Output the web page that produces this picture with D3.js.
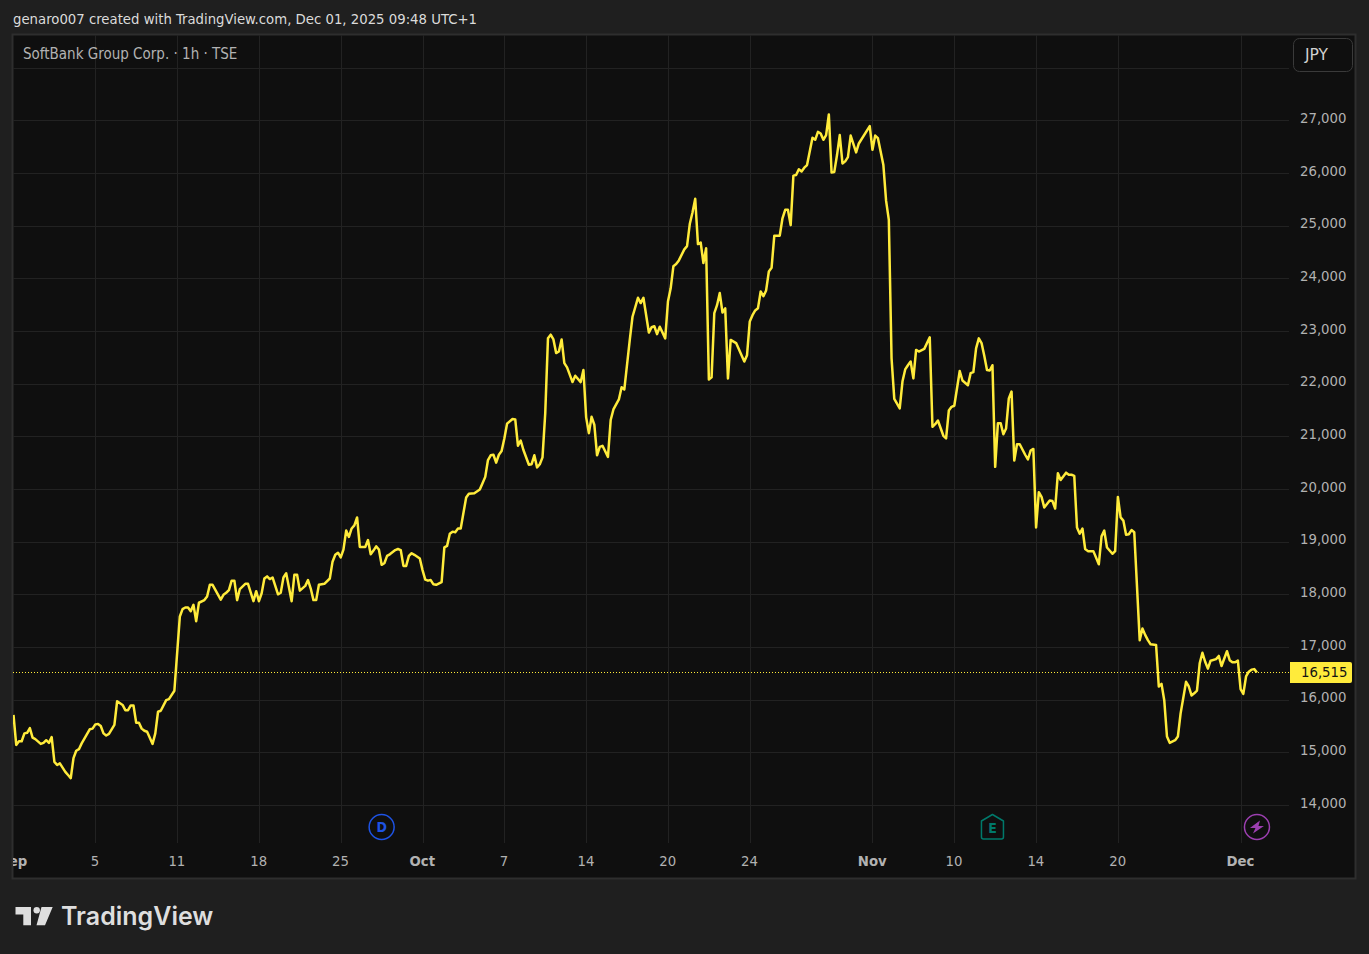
<!DOCTYPE html>
<html>
<head>
<meta charset="utf-8">
<title>SoftBank Group Corp. 1h TSE</title>
<script src="https://cdn.jsdelivr.net/npm/d3@7"></script>
<style>
    html, body { margin: 0; padding: 0; background: #1f1f1f; overflow: hidden; }
    svg { display: block; }
    text { font-family: "DejaVu Sans", sans-serif; font-stretch: condensed; }
    .axis path, .axis line { display: none; }
    .axis text { fill: #b2b2b2; font-size: 14.75px; }
</style>
</head>
<body>
<script>
//bar number on the time scale, only the bars where the line changes direction
var bars = [
    0,1,2,3,4,5,6,7,8,10,
    11,12,13,14,15,16,17,19,20,21,
    22,23,24,25,28,29,30,31,32,33,
    34,35,37,38,40,41,42,43,44,45,
    46,47,48,49,51,52,53,54,56,57,
    59,61,62,63,64,65,66,67,68,70,
    71,72,73,76,77,78,79,80,81,82,
    83,85,86,88,89,90,91,92,93,94,
    95,97,98,99,100,102,103,104,105,107,
    108,109,110,111,112,114,116,117,118,119,
    120,121,122,123,124,125,126,127,129,130,
    131,132,133,134,135,136,137,138,140,141,
    142,143,144,145,146,147,149,150,151,152,
    153,154,155,157,158,159,160,161,162,163,
    164,166,167,169,171,172,173,174,175,176,
    177,178,179,180,181,183,184,185,186,187,
    189,190,191,192,193,194,195,196,197,198,
    199,200,201,202,203,205,206,208,209,210,
    211,212,213,214,215,216,218,219,220,222,
    223,224,226,227,229,230,231,233,234,235,
    236,237,239,240,241,242,243,244,246,247,
    248,249,250,251,252,253,254,255,256,257,
    258,259,260,261,262,263,265,268,269,270,
    271,272,273,274,275,276,277,278,279,281,
    282,283,284,285,286,287,288,289,290,291,
    293,294,295,296,297,298,299,300,301,302,
    303,304,305,306,307,309,310,314,315,316,
    317,319,320,321,322,323,325,326,327,328,
    329,330,331,332,334,336,337,338,339,341,
    342,343,344,345,347,348,350,351,352,353,
    354,355,356,357,358,359,360,361,362,363,
    364,365,366,367,368,369,371,372,373,374,
    375,376,377,378,380,381,382,383,384,386,
    387,388,389,390,391,392,393,394,396,398,
    399,400,401,403,404,405,406,407,408,409,
    410,411,413,414,415,416,417,419,420,421,
    422,423,424,426,427,428,430,431,432,433,
    434,435,436,437,438,439,441,442,443,445,
    446,447,448,449,450,451,452,453,454,455,
    456
];

//close price in JPY for each entry of bars
var closes = [
    15710,15140,15210,15210,15360,15370,15460,15280,15250,15160,
    15180,15230,15180,15290,14820,14760,14790,14630,14570,14510,
    14890,15030,15060,15170,15440,15450,15530,15540,15500,15360,
    15320,15350,15520,15970,15900,15800,15800,15890,15890,15560,
    15560,15450,15410,15390,15160,15360,15770,15790,15990,16010,
    16170,17580,17720,17750,17750,17680,17800,17490,17840,17890,
    17960,18180,18180,17900,17990,18030,18080,18260,18260,17890,
    18100,18200,18200,17870,18060,17870,18020,18300,18340,18290,
    18320,18000,18030,18320,18400,17870,18370,18370,18070,18160,
    18270,18110,17890,17890,18180,18200,18300,18620,18750,18790,
    18700,18850,19210,19090,19250,19310,19460,18900,18900,19030,
    18760,18830,18910,18850,18560,18590,18730,18760,18840,18860,
    18840,18540,18540,18730,18780,18750,18680,18460,18280,18260,
    18270,18190,18180,18230,18890,18920,19150,19190,19180,19250,
    19250,19840,19910,19920,19990,20110,20230,20550,20640,20650,
    20500,20650,20720,20960,21240,21330,21320,20820,20920,20740,
    20460,20470,20640,20410,20470,20600,21440,22860,22930,22840,
    22580,22610,22840,22390,22310,22030,22150,22030,22260,21360,
    21060,21370,21220,20640,20800,20820,20610,21310,21510,21700,
    21930,21890,22830,23270,23630,23530,23630,22970,23070,23090,
    22940,23080,22860,23560,23810,24230,24270,24340,24550,24610,
    25030,25250,25510,24650,24680,24290,24570,22080,22120,23340,
    23490,23720,23350,23430,22100,22830,22770,22420,22540,23180,
    23300,23390,23430,23750,23660,23770,24130,24200,24810,24810,
    25140,25300,25300,25010,25950,25960,26070,26030,26100,26150,
    26670,26630,26780,26750,26630,26720,27110,26010,26020,26340,
    26720,26180,26220,26300,26710,26390,26560,26890,26440,26710,
    26660,26150,25470,25110,22480,21710,21530,22040,22270,22350,
    22420,22100,22640,22610,22660,22880,21180,21230,21300,21010,
    20960,21490,21560,21580,22240,22060,21970,22200,22220,22670,
    22860,22770,22530,22260,22250,22350,20420,21250,21250,21040,
    21150,21720,21850,20540,20850,20850,20650,20560,20730,20760,
    19270,19940,19850,19650,19780,19770,19630,20300,20170,20310,
    20270,20270,20250,19270,19150,19250,18860,18820,18820,18570,
    19100,19210,18890,18770,18820,19850,19460,19400,19130,19140,
    19220,19180,17130,17350,17230,17130,17050,17040,16250,16300,
    15990,15300,15180,15230,15300,15740,16340,16250,16080,16120,
    16170,16690,16890,16720,16590,16740,16770,16830,16640,16920,
    16750,16710,16710,16740,16200,16110,16440,16530,16570,16580,
    16515
];

//time axis
var timeTickBars = [0, 30, 60, 90, 120, 150, 180, 210, 240, 270, 315, 345, 375, 405, 450];
var timeTickLabels = ["Sep", "5", "11", "18", "25", "Oct", "7", "14", "20", "24", "Nov", "10", "14", "20", "Dec"];
var monthLabels = ["Sep", "Oct", "Nov", "Dec"];

//price axis
var priceTicks = [14000, 15000, 16000, 17000, 18000, 19000, 20000, 21000, 22000, 23000, 24000, 25000, 26000, 27000];
var priceGrid = priceTicks.concat([28000]);
var lastPrice = 16515;

//event markers on the time scale
var dividendBar = 135;
var earningsBar = 359;
var splitBar = 456;

var width = 1369,
    height = 954;

var svg = d3.select("body")
    .append("svg")
    .attr("width", width)
    .attr("height", height);

//frame of the chart
var frameLeft = 13,
    frameRight = 1355,
    frameTop = 35,
    frameBottom = 878,
    plotRight = 1289,
    gridBottom = 843;

svg.append("rect")
    .attr("x", frameLeft - 0.5)
    .attr("y", frameTop - 0.5)
    .attr("width", frameRight - frameLeft + 1)
    .attr("height", frameBottom - frameTop + 1)
    .attr("fill", "#0f0f0f")
    .attr("stroke", "#2e2e2e")
    .attr("stroke-width", 2);

svg.append("clipPath").attr("id", "plot-clip")
    .append("rect")
    .attr("x", frameLeft)
    .attr("y", frameTop)
    .attr("width", plotRight - frameLeft)
    .attr("height", gridBottom - frameTop);

svg.append("clipPath").attr("id", "axis-clip")
    .append("rect")
    .attr("x", frameLeft)
    .attr("y", 840)
    .attr("width", frameRight - frameLeft)
    .attr("height", frameBottom - 840);

//scales, one bar is 2.727px wide
var x = d3.scaleLinear().domain([0, 450]).range([13.5, 1240.6]);
var y = d3.scaleLinear().domain([14000, 27000]).range([805, 120.3]);

//grid lines
var grid = svg.append("g").attr("clip-path", "url(#plot-clip)");

grid.selectAll(".hgrid")
    .data(priceGrid)
    .enter()
    .append("line")
    .attr("class", "hgrid")
    .attr("x1", frameLeft)
    .attr("x2", plotRight)
    .attr("y1", function (d) { return Math.round(y(d)) + 0.5; })
    .attr("y2", function (d) { return Math.round(y(d)) + 0.5; })
    .attr("stroke", "#222222");

//no grid line on the first tick, it sits on the frame
grid.selectAll(".vgrid")
    .data(timeTickBars.slice(1))
    .enter()
    .append("line")
    .attr("class", "vgrid")
    .attr("x1", function (d) { return Math.round(x(d)) + 0.5; })
    .attr("x2", function (d) { return Math.round(x(d)) + 0.5; })
    .attr("y1", frameTop)
    .attr("y2", gridBottom)
    .attr("stroke", "#222222");

//last price line
grid.append("line")
    .attr("x1", frameLeft)
    .attr("x2", plotRight)
    .attr("y1", Math.floor(y(lastPrice)) + 0.5)
    .attr("y2", Math.floor(y(lastPrice)) + 0.5)
    .attr("stroke", "#ffeb3b")
    .attr("stroke-dasharray", "1 2");

//price line
var priceLine = d3.line()
    .x(function (d, i) { return x(bars[i]); })
    .y(function (d) { return y(d); });

grid.append("path")
    .datum(closes)
    .attr("fill", "none")
    .attr("stroke", "#ffeb3b")
    .attr("stroke-width", 2.5)
    .attr("stroke-linejoin", "round")
    .attr("d", priceLine);

//price axis
var priceAxis = d3.axisRight(y)
    .tickValues(priceTicks)
    .tickSize(0)
    .tickPadding(0)
    .tickFormat(d3.format(","));

svg.append("g")
    .attr("class", "axis")
    .attr("transform", "translate(1300,-2.5)")
    .call(priceAxis);

//time axis, wrapped so the clip stays in page coordinates
var timeAxis = d3.axisBottom(x)
    .tickValues(timeTickBars)
    .tickSize(0)
    .tickPadding(0)
    .tickFormat(function (d) { return timeTickLabels[timeTickBars.indexOf(d)]; });

svg.append("g")
    .attr("clip-path", "url(#axis-clip)")
    .append("g")
    .attr("class", "axis")
    .attr("transform", "translate(-0.75,856)")
    .call(timeAxis)
    .selectAll("text")
    .attr("font-weight", function (d, i) { return monthLabels.indexOf(timeTickLabels[i]) >= 0 ? "bold" : "normal"; });

//last price tag
svg.append("path")
    .attr("d", "M1290,662H1350a2,2 0 0 1 2,2V681a2,2 0 0 1 -2,2H1290Z")
    .attr("fill", "#ffeb3b");

svg.append("text")
    .attr("x", 1301)
    .attr("y", y(lastPrice))
    .attr("dy", "0.32em")
    .attr("fill", "#131313")
    .attr("font-size", 14.75)
    .text(d3.format(",")(lastPrice));

//currency button
svg.append("rect")
    .attr("x", 1293.5)
    .attr("y", 38.5)
    .attr("width", 59)
    .attr("height", 33)
    .attr("rx", 6)
    .attr("fill", "#0f0f0f")
    .attr("stroke", "#3a3a3a");

svg.append("text")
    .attr("x", 1305)
    .attr("y", 60)
    .attr("fill", "#d1d1d1")
    .attr("font-size", 15.5)
    .style("font-stretch", "normal")
    .text("JPY");

//header and chart title
svg.append("text")
    .attr("x", 13)
    .attr("y", 24)
    .attr("fill", "#dbdbdb")
    .attr("font-size", 14.75)
    .text("genaro007 created with TradingView.com, Dec 01, 2025 09:48 UTC+1");

svg.append("text")
    .attr("x", 23)
    .attr("y", 59)
    .attr("fill", "#b2b2b2")
    .attr("font-size", 15)
    .text("SoftBank Group Corp. \u00b7 1h \u00b7 TSE");

//event markers
var markerY = 827;

svg.append("circle")
    .attr("cx", x(dividendBar))
    .attr("cy", markerY)
    .attr("r", 12.5)
    .attr("fill", "none")
    .attr("stroke", "#1e53e5")
    .attr("stroke-width", 1.5);

svg.append("text")
    .attr("x", x(dividendBar))
    .attr("y", markerY)
    .attr("dy", "0.36em")
    .attr("text-anchor", "middle")
    .attr("fill", "#1e53e5")
    .attr("font-size", 14)
    .attr("font-weight", "bold")
    .text("D");

var earnings = svg.append("g")
    .attr("transform", "translate(" + x(earningsBar) + "," + markerY + ")");

earnings.append("path")
    .attr("d", "M-11,-6L0,-12.5L11,-6V10a2,2 0 0 1 -2,2H-9a2,2 0 0 1 -2,-2Z")
    .attr("fill", "none")
    .attr("stroke", "#00796b")
    .attr("stroke-width", 1.5)
    .attr("stroke-linejoin", "round");

earnings.append("text")
    .attr("y", 1)
    .attr("dy", "0.36em")
    .attr("text-anchor", "middle")
    .attr("fill", "#00796b")
    .attr("font-size", 14)
    .attr("font-weight", "bold")
    .text("E");

var split = svg.append("g")
    .attr("transform", "translate(" + x(splitBar) + "," + markerY + ")");

split.append("circle")
    .attr("r", 12.5)
    .attr("fill", "none")
    .attr("stroke", "#9c3fb0")
    .attr("stroke-width", 1.5);

split.append("path")
    .attr("d", "M3,-6.5L-7,1H-1.5L-4,6.5L7,-1H1.5Z")
    .attr("fill", "#9c3fb0");

//TradingView logo
svg.append("path")
    .attr("d", "M15.5,907H31V925.3H23.3V914.5H15.5Z M41.5,907H52.7L45,925.3H36.5Z")
    .attr("fill", "#dedede");

svg.append("circle")
    .attr("cx", 36.7)
    .attr("cy", 910.3)
    .attr("r", 3.2)
    .attr("fill", "#dedede");

svg.append("text")
    .attr("x", 61)
    .attr("y", 925)
    .attr("fill", "#dedede")
    .attr("font-size", 25)
    .attr("font-weight", 600)
    .style("font-family", "Inter, sans-serif")
    .style("font-stretch", "normal")
    .text("TradingView");
</script>
</body>
</html>
